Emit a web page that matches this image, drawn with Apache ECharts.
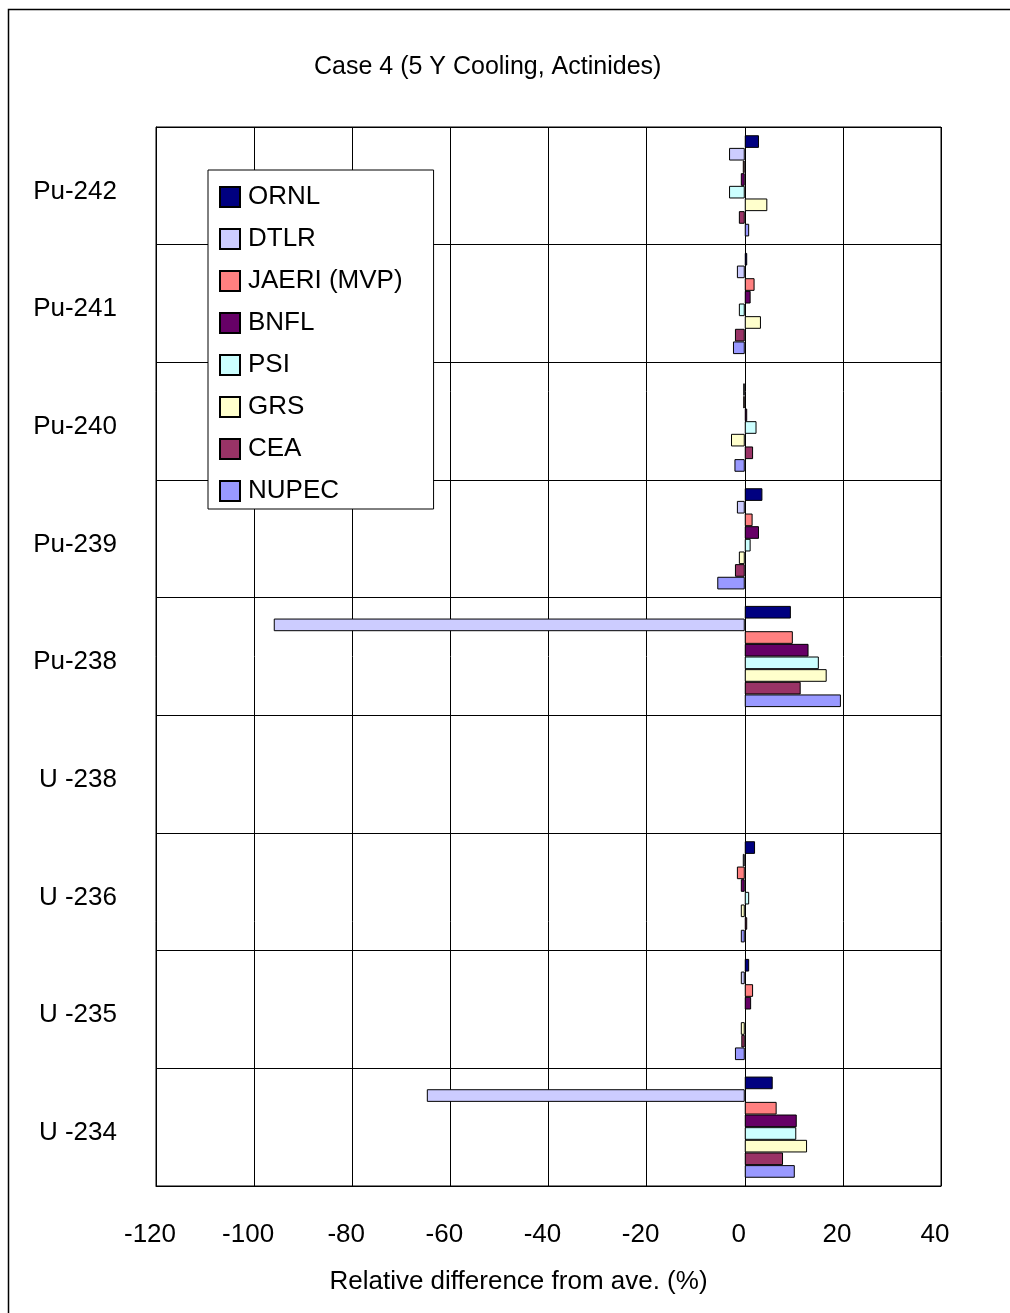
<!DOCTYPE html>
<html>
<head>
<meta charset="utf-8">
<script src="https://cdn.jsdelivr.net/npm/echarts@6/dist/echarts.min.js"></script>
<style>
html,body{margin:0;padding:0;background:#fff;}
#chart{width:1010px;height:1313px;}
</style>
</head>
<body>
<div id="chart"></div>
<script>
const categories = ['Pu-242','Pu-241','Pu-240','Pu-239','Pu-238','U -238','U -236','U -235','U -234'];
const seriesNames = ['ORNL','DTLR','JAERI (MVP)','BNFL','PSI','GRS','CEA','NUPEC'];
const seriesColors = ['#000080','#CCCCFF','#FF8080','#660066','#CCFFFF','#FFFFCC','#993366','#9999FF'];
// null = no bar drawn in the reference
const ORNL  = [2.9, 0.5, null, 3.6, 9.4, null, 2.1, 0.9, 5.7];
const DTLR  = [-3.2, -1.6, -0.3, -1.6, -96.0, null, -0.4, -0.8, -64.8];
const JAERI = [-0.4, 2.0, -0.3, 1.6, 9.8, null, -1.6, 1.7, 6.5];
const BNFL  = [-0.8, 1.2, 0.5, 2.9, 13.0, null, -0.8, 1.3, 10.6];
const PSI   = [-3.2, -1.2, 2.4, 1.2, 15.1, null, 0.9, null, 10.5];
const GRS   = [4.6, 3.3, -2.8, -1.2, 16.7, null, -0.8, -0.8, 12.7];
const CEA   = [-1.2, -2.0, 1.7, -2.0, 11.4, null, 0.5, -0.7, 7.8];
const NUPEC = [0.9, -2.4, -2.1, -5.6, 19.6, null, -0.8, -2.0, 10.2];
const xTicks = [-120, -100, -80, -60, -40, -20, 0, 20, 40];

const seriesData = [ORNL, DTLR, JAERI, BNFL, PSI, GRS, CEA, NUPEC];
const FONT = "'Liberation Sans Narrow','Arial Narrow','Liberation Sans',Arial,sans-serif";

const chart = echarts.init(document.getElementById('chart'), null, {renderer:'canvas'});
chart.setOption({
  animation: false,
  backgroundColor: '#fff',
  textStyle: {fontFamily: FONT, color: '#000'},
  title: {
    text: 'Case 4 (5 Y Cooling, Actinides)',
    left: 309, top: 50,
    textStyle: {fontFamily: FONT, fontSize: 25, fontWeight: 'normal', color: '#000'}
  },
  graphic: [{
    type: 'rect', silent: true, z: -1,
    shape: {x: 8.5, y: 9.5, width: 1100, height: 1400},
    style: {fill: 'none', stroke: '#000', lineWidth: 1.5}
  }],
  legend: {
    orient: 'vertical', left: 208, top: 170,
    backgroundColor: '#fff', borderColor: '#000', borderWidth: 1,
    padding: [14, 31, 5, 11],
    icon: 'rect',
    itemWidth: 20, itemHeight: 20, itemGap: 16,
    textStyle: {fontFamily: FONT, fontSize: 26, color: '#000', padding: [0,0,0,3]},
    data: seriesNames,
    z: 10
  },
  grid: {left: 156, top: 127, right: 69, bottom: 127, show: true, borderColor: '#000', borderWidth: 1, containLabel: false},
  xAxis: {
    type: 'value', min: -120, max: 40, interval: 20,
    axisLine: {show: true, lineStyle: {color: '#000'}},
    axisTick: {show: false},
    splitLine: {show: true, lineStyle: {color: '#000', width: 1}},
    axisLabel: {fontFamily: FONT, fontSize: 26, color: '#000', margin: 36, padding: [0, 12, 0, 0],
      formatter: v => xTicks.includes(v) ? String(v) : ''},
    name: 'Relative difference from ave. (%)',
    nameLocation: 'middle', nameGap: 83,
    nameTextStyle: {fontFamily: FONT, fontSize: 26, color: '#000', padding: [0, 60, 0, 0]}
  },
  yAxis: {
    type: 'category', data: categories, inverse: true,
    axisLine: {show: true, onZero: false, lineStyle: {color: '#000'}},
    axisTick: {show: false},
    splitLine: {show: true, lineStyle: {color: '#000', width: 1}},
    axisLabel: {
      margin: 39,
      formatter: v => '{a|' + v + '}',
      rich: {a: {fontFamily: FONT, fontSize: 26, color: '#000', padding: [11, 0, 0, 0]}}
    }
  },
  series: seriesNames.map((n, i) => ({
    name: n, type: 'bar', data: seriesData[i],
    barGap: '0%', barCategoryGap: '14%',
    itemStyle: {color: seriesColors[i], borderColor: '#000', borderWidth: 1}
  }))
});
</script>
</body>
</html>
